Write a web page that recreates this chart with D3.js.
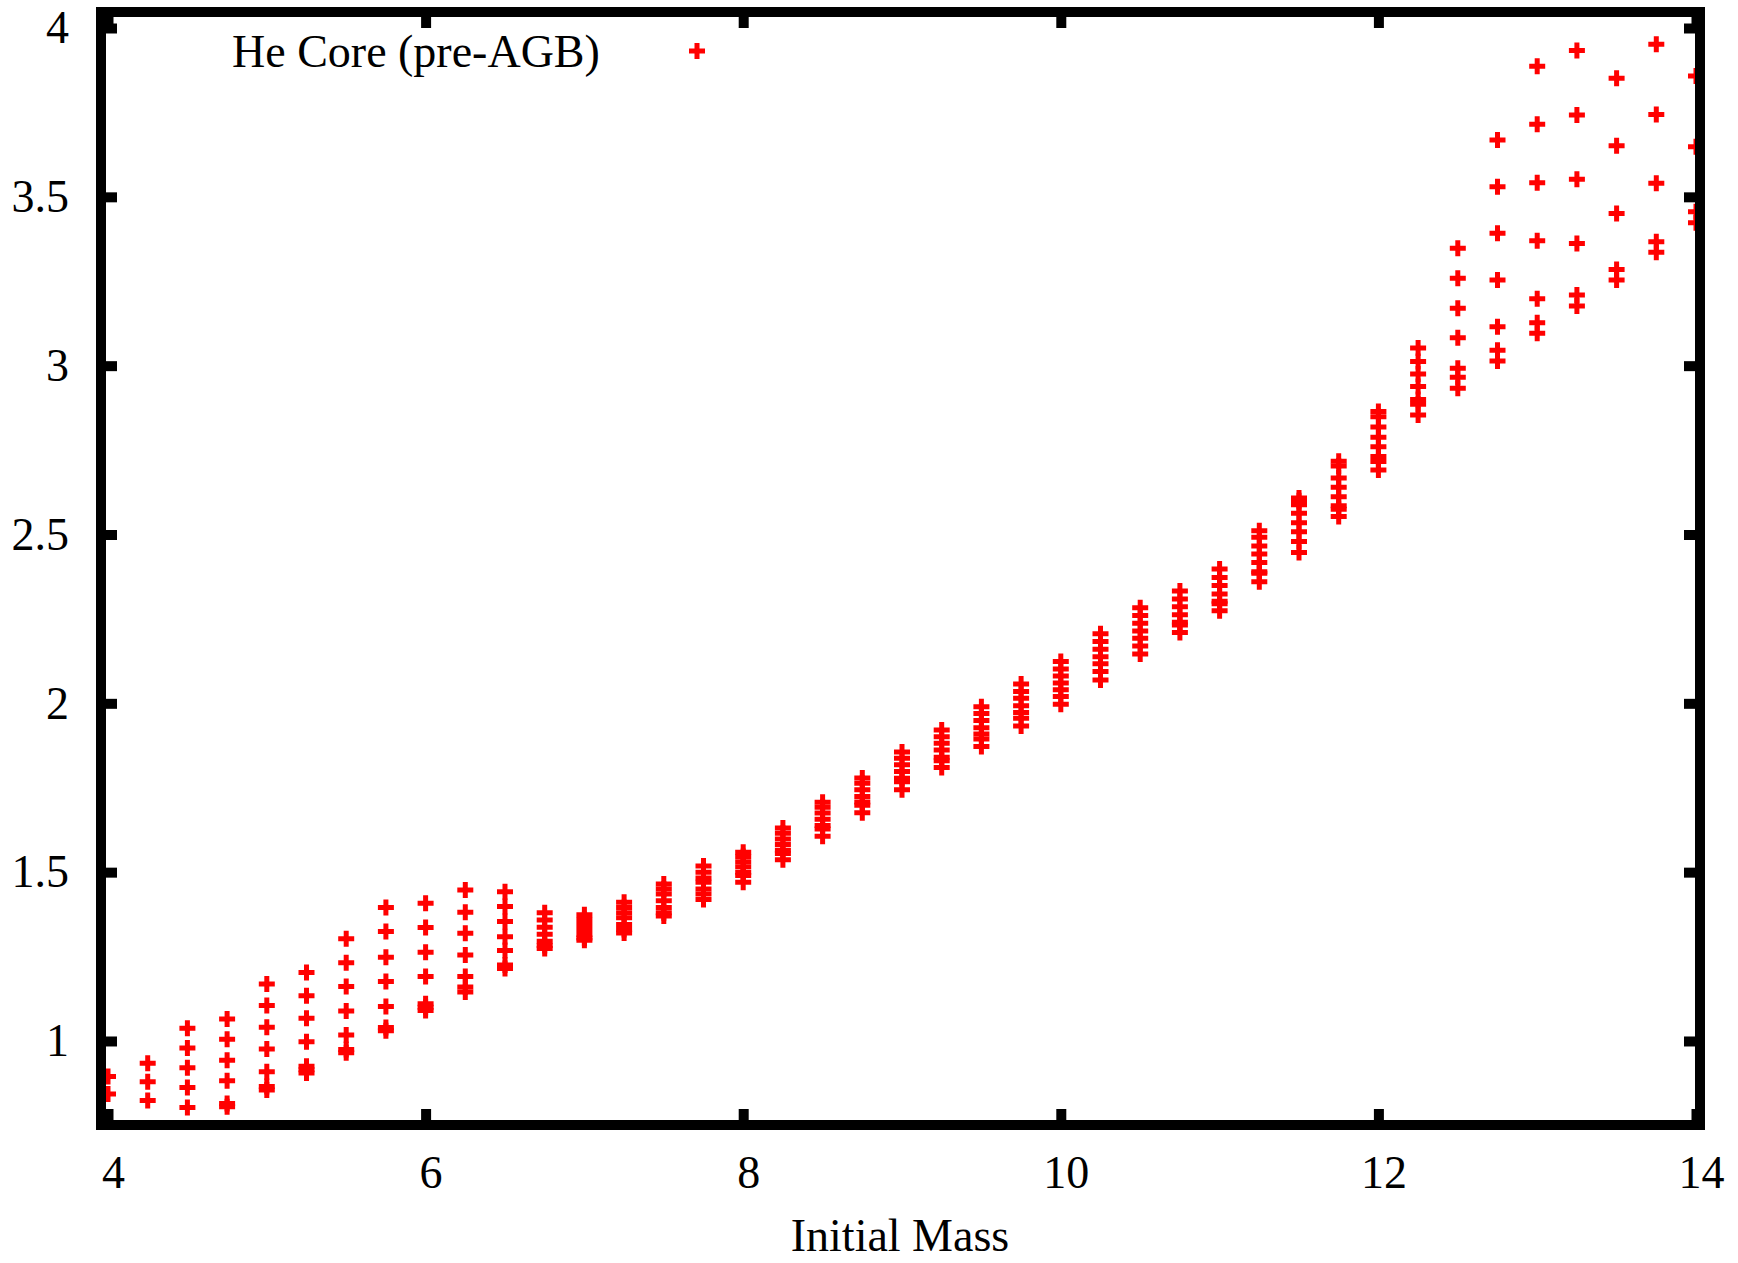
<!DOCTYPE html>
<html>
<head>
<meta charset="utf-8">
<script src="https://cdn.jsdelivr.net/npm/d3@7"></script>
<style>
  body { margin: 0; background: #fff; }
  svg { display: block; font-family: "Liberation Serif", "Times New Roman", serif; }
</style>
</head>
<body>
<svg id="chart" width="1738" height="1263"></svg>
<script>
// initial masses (one column of models each)
const masses = [4, 4.25, 4.5, 4.75, 5, 5.25, 5.5, 5.75, 6, 6.25, 6.5, 6.75, 7, 7.25, 7.5, 7.75,
    8, 8.25, 8.5, 8.75, 9, 9.25, 9.5, 9.75, 10, 10.25, 10.5, 10.75, 11, 11.25, 11.5, 11.75,
    12, 12.25, 12.5, 12.75, 13, 13.25, 13.5, 13.75, 14];

// He core mass (pre-AGB) for each initial mass
const heCore = [
    [0.895, 0.843],
    [0.934, 0.879, 0.824],
    [1.038, 0.979, 0.921, 0.862, 0.803],
    [1.065, 1.005, 0.943, 0.882, 0.815, 0.805],
    [1.169, 1.105, 1.041, 0.976, 0.909, 0.865, 0.855],
    [1.203, 1.134, 1.067, 0.998, 0.925, 0.915, 0.905],
    [1.303, 1.232, 1.161, 1.089, 1.018, 0.975, 0.965],
    [1.395, 1.324, 1.248, 1.176, 1.102, 1.04, 1.03],
    [1.408, 1.336, 1.263, 1.191, 1.11, 1.1, 1.09],
    [1.447, 1.381, 1.319, 1.255, 1.191, 1.16, 1.145],
    [1.442, 1.398, 1.354, 1.309, 1.268, 1.225, 1.215],
    [1.38, 1.358, 1.337, 1.316, 1.295, 1.283, 1.274],
    [1.374, 1.36, 1.345, 1.33, 1.315, 1.305, 1.298],
    [1.411, 1.395, 1.38, 1.365, 1.345, 1.33, 1.32],
    [1.465, 1.45, 1.435, 1.415, 1.395, 1.38, 1.37],
    [1.518, 1.5, 1.483, 1.47, 1.45, 1.435, 1.419],
    [1.559, 1.546, 1.531, 1.516, 1.5, 1.49, 1.47],
    [1.631, 1.615, 1.598, 1.582, 1.565, 1.555, 1.537],
    [1.707, 1.692, 1.675, 1.657, 1.638, 1.628, 1.606],
    [1.779, 1.763, 1.744, 1.724, 1.708, 1.698, 1.676],
    [1.856, 1.837, 1.818, 1.798, 1.778, 1.768, 1.744],
    [1.921, 1.901, 1.882, 1.862, 1.84, 1.83, 1.81],
    [1.99, 1.97, 1.949, 1.928, 1.909, 1.894, 1.872],
    [2.057, 2.035, 2.015, 1.993, 1.973, 1.956, 1.933],
    [2.124, 2.102, 2.081, 2.06, 2.04, 2.02, 1.997],
    [2.206, 2.183, 2.16, 2.138, 2.117, 2.094, 2.069],
    [2.283, 2.26, 2.237, 2.214, 2.193, 2.17, 2.146],
    [2.333, 2.309, 2.286, 2.262, 2.24, 2.232, 2.21],
    [2.398, 2.373, 2.349, 2.324, 2.302, 2.295, 2.274],
    [2.511, 2.492, 2.466, 2.442, 2.417, 2.39, 2.385, 2.36],
    [2.608, 2.6, 2.588, 2.563, 2.535, 2.508, 2.479, 2.447],
    [2.717, 2.703, 2.667, 2.64, 2.612, 2.585, 2.575, 2.553],
    [2.864, 2.849, 2.818, 2.788, 2.76, 2.731, 2.716, 2.691],
    [3.052, 3.012, 2.975, 2.938, 2.9, 2.886, 2.854],
    [3.348, 3.259, 3.17, 3.083, 2.992, 2.966, 2.933],
    [3.668, 3.53, 3.392, 3.254, 3.115, 3.046, 3.014],
    [3.887, 3.715, 3.542, 3.37, 3.198, 3.127, 3.096],
    [3.933, 3.742, 3.552, 3.362, 3.209, 3.177],
    [3.851, 3.651, 3.451, 3.285, 3.254],
    [3.952, 3.744, 3.54, 3.367, 3.336],
    [3.858, 3.648, 3.456, 3.423]
];

const xTicks = [4, 6, 8, 10, 12, 14];
const yTicks = [1, 1.5, 2, 2.5, 3, 3.5, 4];
const legendLabel = 'He Core (pre-AGB)';
const xLabel = 'Initial Mass';

const svg = d3.select('#chart');
const frame = { left: 101, right: 1700, top: 12, bottom: 1125 };
const fontFamily = '"Liberation Serif", "Times New Roman", serif';

const x = d3.scaleLinear().domain([4, 14]).range([108, 1696]);
const y = d3.scaleLinear().domain([0.75, 4]).range([1125.4, 28]);

const points = [];
masses.forEach((m, i) => {
    heCore[i].forEach(v => points.push({ m: m, v: v }));
});

const cross = 'M-8,0H8M0,-8V8';

// points first, frame drawn over them
svg.append('g')
    .selectAll('path')
    .data(points)
    .enter()
    .append('path')
    .attr('d', cross)
    .attr('transform', d => `translate(${x(d.m)},${y(d.v)})`)
    .attr('stroke', '#ff0000')
    .attr('stroke-width', 5)
    .attr('fill', 'none');

function styleAxis(g) {
    g.attr('font-family', fontFamily).attr('font-size', 46);
    g.select('.domain').remove();
    g.selectAll('.tick line')
        .attr('stroke', '#000')
        .attr('stroke-width', 10);
    g.selectAll('.tick text')
        .attr('fill', '#000');
}

svg.append('g')
    .attr('transform', `translate(0,${frame.bottom})`)
    .call(d3.axisBottom(x).tickValues(xTicks).tickSize(-16).tickPadding(30).tickFormat(d3.format('d')))
    .call(styleAxis)
    .call(g => g.selectAll('.tick text').attr('dx', 5));

svg.append('g')
    .attr('transform', `translate(0,${frame.top})`)
    .call(d3.axisTop(x).tickValues(xTicks).tickSize(-16).tickFormat(''))
    .call(styleAxis);

svg.append('g')
    .attr('transform', `translate(${frame.left},0)`)
    .call(d3.axisLeft(y).tickValues(yTicks).tickSize(-16).tickPadding(32).tickFormat(d3.format('')))
    .call(styleAxis);

svg.append('g')
    .attr('transform', `translate(${frame.right},0)`)
    .call(d3.axisRight(y).tickValues(yTicks).tickSize(-16).tickFormat(''))
    .call(styleAxis);

svg.append('rect')
    .attr('x', frame.left)
    .attr('y', frame.top)
    .attr('width', frame.right - frame.left)
    .attr('height', frame.bottom - frame.top)
    .attr('fill', 'none')
    .attr('stroke', '#000')
    .attr('stroke-width', 10);

// key
svg.append('text')
    .attr('x', 232)
    .attr('y', 67)
    .style('font-size', '46px')
    .text(legendLabel);

svg.append('path')
    .attr('d', cross)
    .attr('transform', 'translate(697,51)')
    .attr('stroke', '#ff0000')
    .attr('stroke-width', 5)
    .attr('fill', 'none');

svg.append('text')
    .attr('x', 900)
    .attr('y', 1251)
    .attr('text-anchor', 'middle')
    .style('font-size', '46px')
    .text(xLabel);
</script>
</body>
</html>
